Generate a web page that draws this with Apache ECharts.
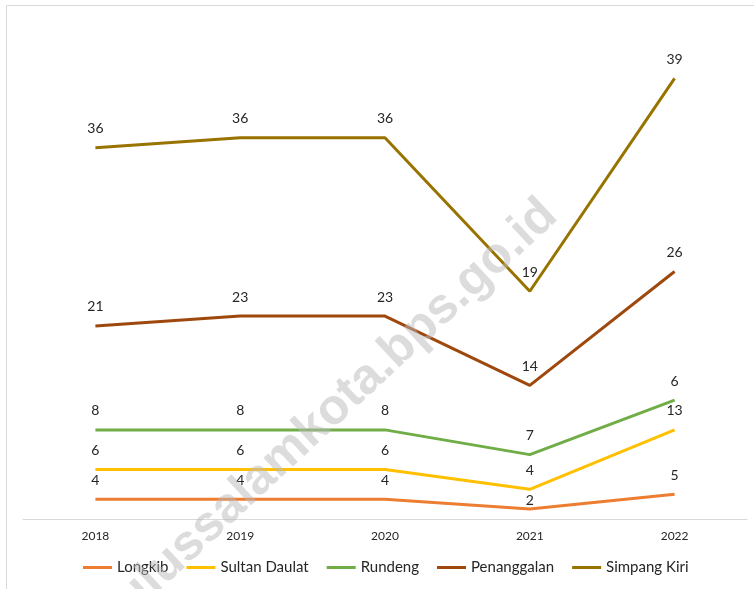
<!DOCTYPE html>
<html>
<head>
<meta charset="utf-8">
<script src="https://cdn.jsdelivr.net/npm/echarts@6/dist/echarts.min.js"></script>
<style>
  html, body { margin: 0; padding: 0; background: #fff; }
  #chart { width: 754px; height: 589px; }
</style>
</head>
<body>
<div id="chart"></div>
<script>
  var years = ['2018', '2019', '2020', '2021', '2022'];
  var longkib = [4, 4, 4, 2, 5];
  var sultanDaulat = [6, 6, 6, 4, 13];
  var rundeng = [8, 8, 8, 7, 6];
  var penanggalan = [21, 23, 23, 14, 26];
  var simpangKiri = [36, 36, 36, 19, 39];

  var font = 'Lato, "Open Sans", sans-serif';

  function makeSeries(name, data, color) {
    return {
      name: name,
      type: 'line',
      stack: 'total',
      data: data,
      symbol: 'circle',
      symbolSize: 0,
      showSymbol: true,
      lineStyle: { color: color, width: 3 },
      itemStyle: { color: color },
      label: {
        show: true,
        position: 'top',
        distance: 12,
        color: '#262626',
        fontSize: 14,
        fontFamily: font
      },
      z: 3
    };
  }

  var series = [
    makeSeries('Longkib', longkib, '#ED7D31'),
    makeSeries('Sultan Daulat', sultanDaulat, '#FFC000'),
    makeSeries('Rundeng', rundeng, '#70AD47'),
    makeSeries('Penanggalan', penanggalan, '#9E480E'),
    makeSeries('Simpang Kiri', simpangKiri, '#997300')
  ];
  // Longkib 2021 label sits closer to its line in the reference
  series[0].data = longkib.map(function (v, i) {
    return i === 3 ? { value: v, label: { distance: 2 } } : v;
  });

  var myChart = echarts.init(document.getElementById('chart'));
  var option = {
    animation: false,
    backgroundColor: '#fff',
    graphic: [
      {
        type: 'rect',
        shape: { x: 6.5, y: 5.5, width: 760, height: 600 },
        style: { fill: 'none', stroke: '#d9d9d9', lineWidth: 1 },
        z: -10
      },
      {
        type: 'text',
        x: 550,
        y: 208,
        rotation: 0.75,
        style: {
          text: 'subulussalamkota.bps.go.id',
          fontSize: 50,
          fontWeight: 'bold',
          fontFamily: '"Liberation Sans", Arial, sans-serif',
          fill: 'rgba(185,185,185,0.5)',
          align: 'right',
          verticalAlign: 'middle'
        },
        z: 10
      }
    ],
    grid: { left: 23, right: 7, top: 19, bottom: 70 },
    legend: {
      bottom: 9,
      left: 78,
      icon: 'rect',
      itemWidth: 29,
      itemHeight: 3,
      itemGap: 18,
      textStyle: { color: '#262626', fontSize: 15, fontFamily: font },
      data: ['Longkib', 'Sultan Daulat', 'Rundeng', 'Penanggalan', 'Simpang Kiri']
    },
    xAxis: {
      type: 'category',
      data: years,
      boundaryGap: true,
      axisLine: { lineStyle: { color: '#d9d9d9', width: 1 } },
      axisTick: { show: false },
      axisLabel: { color: '#262626', fontSize: 12, fontFamily: font, margin: 11 }
    },
    yAxis: {
      type: 'value',
      min: 0,
      max: 101,
      show: false,
      splitLine: { show: false }
    },
    series: series
  };
  myChart.setOption(option, true);
</script>
</body>
</html>
